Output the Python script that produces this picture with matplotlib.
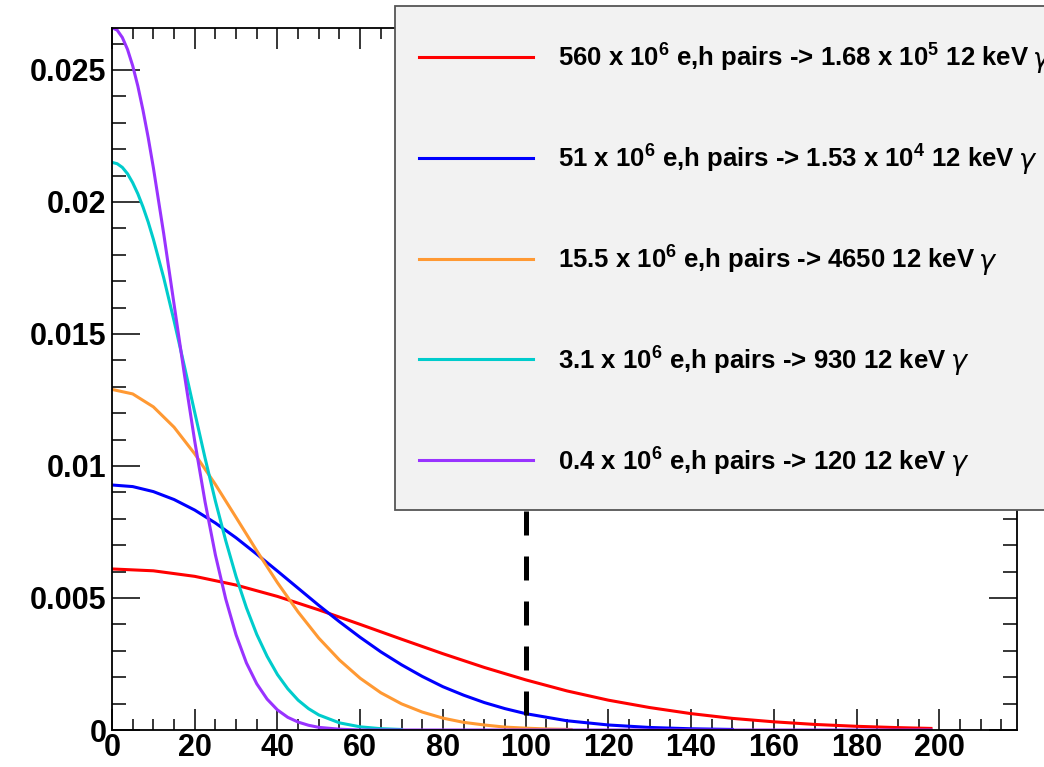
import matplotlib
matplotlib.use("Agg")
import matplotlib.pyplot as plt
from matplotlib import font_manager
from matplotlib.lines import Line2D
from matplotlib.patches import Rectangle
from matplotlib.ticker import MultipleLocator, FuncFormatter

# values
x_red = [0, 10, 20, 30, 40, 50, 60, 70, 80, 90, 100, 110, 120, 130, 140, 150,
         160, 170, 180, 190, 198]
y_red = [0.00610, 0.00603, 0.00582, 0.00549, 0.00506, 0.00455, 0.00400, 0.00344,
         0.00289, 0.00237, 0.00190, 0.00148, 0.00113, 0.00085, 0.00062, 0.00044,
         0.00031, 0.00021, 0.00014, 0.00009, 0.00006]

x_blue = [0, 5, 10, 15, 20, 25, 30, 35, 40, 45, 50, 55, 60, 65, 70, 75, 80, 85,
          90, 95, 100, 110, 120, 130, 140, 150]
y_blue = [0.00928, 0.00922, 0.00903, 0.00873, 0.00833, 0.00784, 0.00728, 0.00666,
          0.00602, 0.00537, 0.00472, 0.00410, 0.00351, 0.00296, 0.00247, 0.00203,
          0.00164, 0.00132, 0.00104, 0.00081, 0.00062, 0.00035, 0.00019, 0.000096,
          0.000046, 0.000021]

x_orange = [0, 5, 10, 15, 20, 25, 30, 35, 40, 45, 50, 55, 60, 65, 70, 75, 80, 85,
            90, 95, 100, 105, 111]
y_orange = [0.01290, 0.01273, 0.01224, 0.01147, 0.01046, 0.00930, 0.00805, 0.00679,
            0.00558, 0.00447, 0.00348, 0.00265, 0.00196, 0.00141, 0.00099, 0.00068,
            0.00045, 0.00029, 0.00019, 0.00011, 0.00007, 0.00004, 0.00002]

x_cyan = [0, 1.25, 2.5, 3.75, 5, 6.25, 7.5, 8.75, 10, 12.5, 15, 17.5, 20, 22.5,
          25, 27.5, 30, 32.5, 35, 37.5, 40, 42.5, 45, 47.5, 50, 55, 60, 65, 70]
y_cyan = [0.02150, 0.02145, 0.02131, 0.02107, 0.02073, 0.02031, 0.01981, 0.01924,
          0.01859, 0.01713, 0.01550, 0.01378, 0.01203, 0.01030, 0.00867, 0.00717,
          0.00581, 0.00463, 0.00362, 0.00279, 0.00210, 0.00156, 0.00113, 0.00081,
          0.00057, 0.00027, 0.00012, 0.00005, 0.00002]

x_purple = [0, 1.25, 2.5, 3.75, 5, 6.25, 7.5, 8.75, 10, 12.5, 15, 17.5, 20, 22.5,
            25, 27.5, 30, 32.5, 35, 37.5, 40, 42.5, 45, 47.5, 50, 55, 60, 198]
y_purple = [0.02660, 0.02651, 0.02623, 0.02578, 0.02516, 0.02439, 0.02347, 0.02244,
            0.02130, 0.01880, 0.01613, 0.01347, 0.01094, 0.00864, 0.00663, 0.00496,
            0.00360, 0.00254, 0.00175, 0.00117, 0.00076, 0.00048, 0.00030, 0.00018,
            0.00010, 0.00003, 0.0, 0.0]

labels = [
    r"560 x 10$^{6}$ e,h pairs -> 1.68 x 10$^{5}$ 12 keV",
    r"51 x 10$^{6}$ e,h pairs -> 1.53 x 10$^{4}$ 12 keV",
    r"15.5 x 10$^{6}$ e,h pairs -> 4650 12 keV",
    r"3.1 x 10$^{6}$ e,h pairs -> 930 12 keV",
    r"0.4 x 10$^{6}$ e,h pairs -> 120 12 keV",
]
colors = ["#ff0000", "#0000ff", "#ff9933", "#00cccc", "#9933ff"]

cut_x = [100, 100]
cut_y = [0.00057, 0.0266]

names = {f.name for f in font_manager.fontManager.ttflist}
if "Liberation Sans Narrow" in names:
    leg_family = ["Liberation Sans Narrow", "Liberation Sans", "DejaVu Sans"]
    leg_size = 20
else:
    leg_family = ["Liberation Sans", "DejaVu Sans"]
    leg_size = 18.5

plt.rcParams["font.family"] = ["Liberation Sans", "DejaVu Sans"]
plt.rcParams["mathtext.default"] = "regular"
plt.rcParams["mathtext.fontset"] = "dejavusans"

W, H = 1044, 767
fig = plt.figure(figsize=(W / 100, H / 100), dpi=100)
ax = fig.add_axes([112 / W, 1 - 730 / H, (1017 - 112) / W, (730 - 28) / H])

series = [(x_red, y_red), (x_blue, y_blue), (x_orange, y_orange),
          (x_cyan, y_cyan), (x_purple, y_purple)]
for (xs, ys), c in zip(series, colors):
    ax.plot(xs, ys, color=c, lw=2.2, solid_joinstyle="round")

ax.plot(cut_x, cut_y, color="black", lw=3.6, dashes=(4.8, 4.2),
        dash_capstyle="butt")

ax.set_xlim(0, 218.8)
ax.set_ylim(0, 0.02659)

ax.xaxis.set_major_locator(MultipleLocator(20))
ax.xaxis.set_minor_locator(MultipleLocator(5))
ax.yaxis.set_major_locator(MultipleLocator(0.005))
ax.yaxis.set_minor_locator(MultipleLocator(0.001))
ax.yaxis.set_major_formatter(FuncFormatter(lambda v, p: f"{v:g}"))
ax.xaxis.set_major_formatter(FuncFormatter(lambda v, p: f"{v:g}" if v <= 200 else ""))

ax.tick_params(axis="both", which="both", direction="in", top=True, right=True,
               width=1.1, color="black")
ax.tick_params(axis="x", which="major", length=15, pad=2)
ax.tick_params(axis="x", which="minor", length=8)
ax.tick_params(axis="y", which="major", length=20, pad=4)
ax.tick_params(axis="y", which="minor", length=10)
for lab in ax.get_xticklabels() + ax.get_yticklabels():
    lab.set_fontsize(22)
    lab.set_fontweight("bold")
for s in ax.spines.values():
    s.set_linewidth(1.3)

# legend box, runs past the right edge of the canvas like the original
fig.add_artist(Rectangle((395 / W, 1 - 510 / H), 700 / W, 504 / H,
                         transform=fig.transFigure, facecolor="#f2f2f2",
                         edgecolor="#555555", lw=1.3, zorder=5, clip_on=False))
fig.canvas.draw()
for i, (lab, c) in enumerate(zip(labels, colors)):
    yc = 57 + 100.8 * i
    fig.add_artist(Line2D([419 / W, 533 / W], [1 - yc / H, 1 - yc / H],
                          transform=fig.transFigure, color=c, lw=2.2, zorder=6))
    t = fig.text(558 / W, 1 - (yc + 10) / H, lab, fontsize=leg_size,
                 fontweight="bold", family=leg_family, va="baseline", zorder=7)
    # the gamma is set in a plain slanted face, as in the original
    bb = t.get_window_extent(renderer=fig.canvas.get_renderer())
    fig.text((bb.x1 + 3) / W, 1 - (yc + 10) / H, r"$\mathit{\gamma}$",
             fontsize=leg_size + 1, va="baseline", zorder=7)

fig.savefig("out.png", dpi=100)
